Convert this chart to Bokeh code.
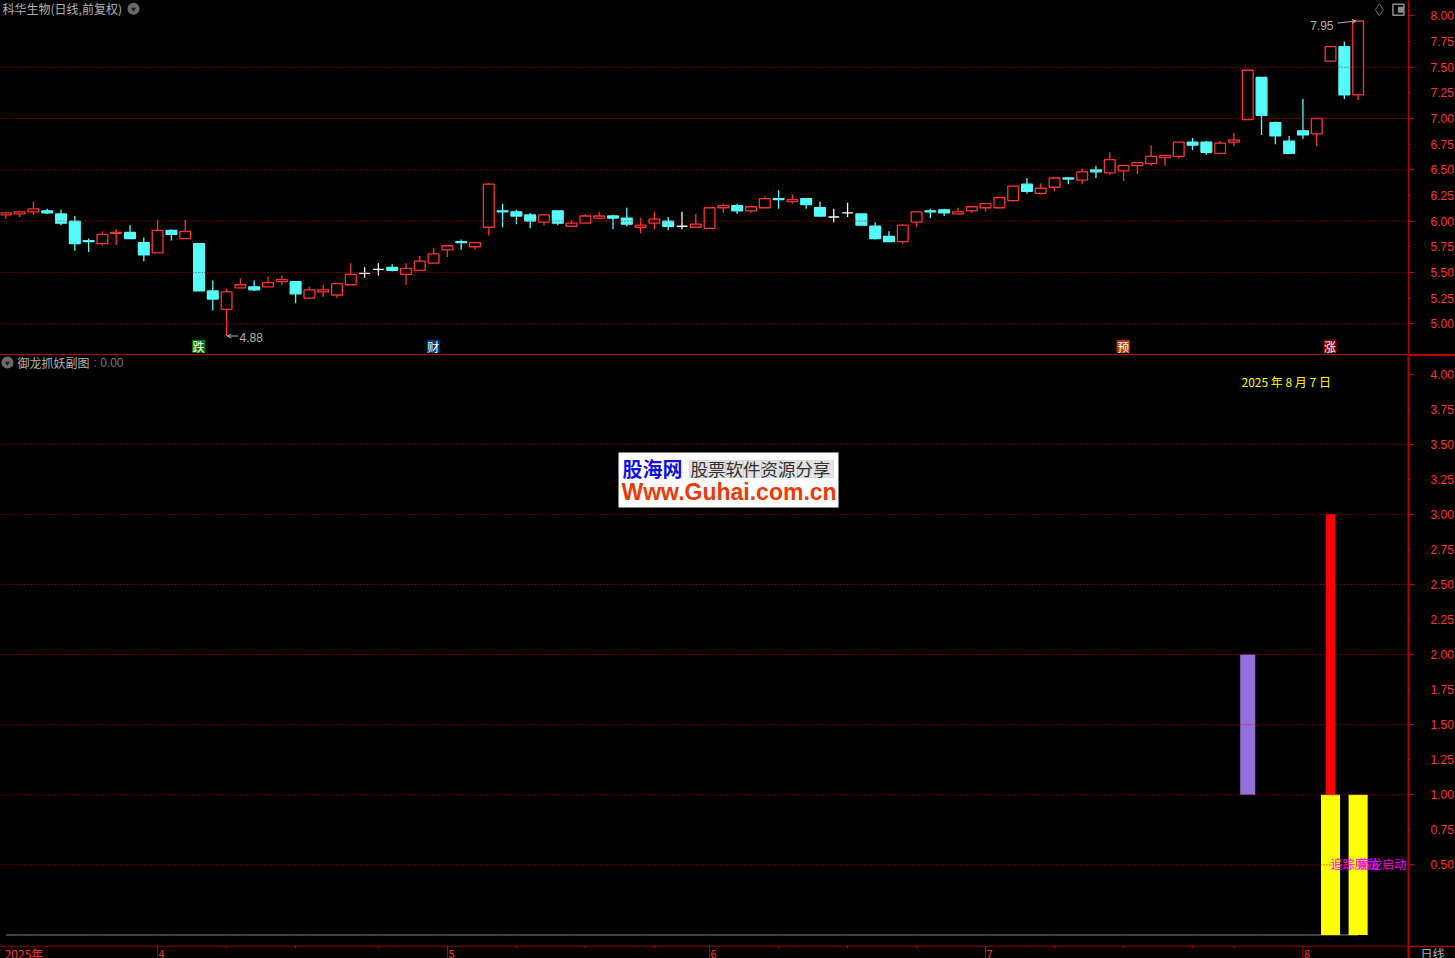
from bokeh.plotting import figure
from bokeh.layouts import column
from bokeh.models import (FixedTicker, Label, LinearAxis, Range1d, Span, BoxAnnotation, ColumnDataSource, Arrow, OpenHead, Div)
from bokeh.core.properties import value
from bokeh.embed import file_html
from bokeh.resources import INLINE

# ---------- data ----------
opens = [6.06,6.07,6.09,6.10,6.07,6.00,5.81,5.78,5.88,5.89,5.79,5.69,5.91,5.83,5.78,5.32,5.14,5.35,5.36,5.36,5.41,5.41,5.25,5.31,5.28,5.38,
         5.49,5.53,5.55,5.48,5.52,5.59,5.72,5.80,5.75,5.94,6.10,6.09,6.06,5.99,6.10,5.95,5.98,6.03,6.05,6.03,5.94,5.98,6.00,5.95,5.94,5.93,6.13,6.15,6.10,6.13,
         6.22,6.19,6.22,6.13,6.04,6.08,6.07,5.95,5.85,5.80,5.99,6.10,6.11,6.07,6.10,6.13,6.13,6.20,6.36,6.27,6.33,6.42,6.40,6.50,6.47,6.49,6.54,6.56,6.62,6.63,
         6.77,6.77,6.66,6.77,6.99,7.40,6.96,6.78,6.88,6.85,7.56,7.70,7.23]
highs = [6.09,6.10,6.19,6.12,6.11,6.05,5.83,5.90,5.92,5.96,5.84,6.01,5.92,6.01,5.78,5.42,5.34,5.44,5.42,5.46,5.47,5.41,5.36,5.38,5.39,5.59,
         5.55,5.59,5.58,5.59,5.66,5.74,5.77,5.82,5.80,6.37,6.17,6.11,6.08,6.07,6.10,6.01,6.07,6.09,6.06,6.13,6.03,6.09,6.04,6.09,6.07,6.13,6.17,6.17,6.14,6.24,
         6.30,6.26,6.22,6.19,6.12,6.18,6.07,5.99,5.90,5.97,6.09,6.12,6.12,6.13,6.14,6.18,6.23,6.35,6.42,6.37,6.42,6.43,6.51,6.54,6.67,6.54,6.57,6.74,6.64,6.77,
         6.81,6.78,6.78,6.86,7.47,7.40,6.97,6.83,7.19,7.01,7.70,7.75,7.95]
lows = [6.02,6.04,6.06,6.07,5.96,5.71,5.70,5.76,5.77,5.83,5.61,5.69,5.81,5.83,5.32,5.13,4.88,5.35,5.32,5.36,5.38,5.20,5.24,5.26,5.25,5.38,
        5.45,5.47,5.51,5.38,5.52,5.59,5.65,5.72,5.72,5.86,5.94,5.97,5.93,5.96,5.96,5.95,5.98,6.03,5.92,5.95,5.88,5.92,5.91,5.92,5.94,5.93,6.08,6.07,6.08,6.13,
        6.12,6.17,6.12,6.04,5.99,6.04,5.96,5.82,5.80,5.78,5.94,6.03,6.05,6.07,6.08,6.09,6.13,6.19,6.27,6.26,6.29,6.36,6.36,6.42,6.45,6.39,6.46,6.54,6.54,6.61,
        6.69,6.65,6.65,6.73,6.99,6.84,6.75,6.66,6.80,6.73,7.56,7.19,7.18]
closes = [6.08,6.09,6.12,6.08,5.98,5.78,5.80,5.87,5.89,5.83,5.67,5.91,5.87,5.90,5.32,5.24,5.31,5.38,5.33,5.40,5.43,5.29,5.33,5.33,5.39,5.48,
          5.49,5.53,5.52,5.54,5.61,5.68,5.76,5.79,5.79,6.36,6.09,6.05,6.00,6.06,5.98,5.98,6.05,6.05,6.03,5.97,5.96,6.02,5.95,5.95,5.97,6.13,6.15,6.10,6.14,6.22,
          6.21,6.21,6.16,6.05,6.04,6.08,5.96,5.83,5.80,5.96,6.09,6.09,6.08,6.09,6.14,6.17,6.23,6.34,6.29,6.32,6.42,6.41,6.48,6.48,6.60,6.54,6.57,6.63,6.64,6.77,
          6.74,6.67,6.76,6.79,7.47,7.03,6.83,6.66,6.84,7.00,7.70,7.23,7.95]

price_ticks = [5.00,5.25,5.50,5.75,6.00,6.25,6.50,6.75,7.00,7.25,7.50,7.75,8.00]
price_grid = [5.0,5.5,6.0,6.5,7.0,7.5]
sub_ticks = [0.50,0.75,1.00,1.25,1.50,1.75,2.00,2.25,2.50,2.75,3.00,3.25,3.50,3.75,4.00]
sub_grid = [0.5,1.0,1.5,2.0,2.5,3.0,3.5]
month_idx = [11,32,51,71,94]
month_labels = ["4","5","6","7","8"]
year_label = "2025年"
week_idx = [16,21,27,37,42,47,56,61,66,76,81,86,89]
tags = [(14,"跌","#007800"),(31,"财","#003C78"),(81,"预","#A83800"),(96,"涨","#800000")]
purple_idx, purple_lo, purple_hi = [90],[1.0],[2.0]
red_idx, red_lo, red_hi = [96],[1.0],[3.0]
yellow_idx, yellow_hi = [96,98],[1.0,1.0]
zero_line = [0.0]*99

RED="#FF3232"; CYAN="#54FCFC"; AXIS="#C00000"; GRAY="#B4B4B4"; CJK="Noto Sans CJK SC"; LAT="Liberation Sans"
X0,X1=-0.386,101.65
n=len(opens); idx=list(range(n))
up=[i for i in idx if closes[i]>opens[i]]
dn=[i for i in idx if closes[i]<opens[i]]
dj=[i for i in idx if closes[i]==opens[i]]

def frame(h,yr):
    f=figure(width=1455,height=h,frame_width=1408,frame_height=h,x_range=Range1d(X0,X1),y_range=Range1d(*yr),
             output_backend="svg",toolbar_location=None,background_fill_color="#000000",border_fill_color="#000000",
             outline_line_color=None,min_border_left=0,min_border_right=47,min_border_top=0,min_border_bottom=0,y_axis_location=None,x_axis_location=None)
    f.xgrid.visible=False; f.ygrid.visible=False
    return f

def strip(h,yr):
    x1=X0+(X1-X0)*1455/1408
    f=figure(width=1455,height=h,frame_width=1455,frame_height=h,x_range=Range1d(X0,x1),y_range=Range1d(*yr),
             output_backend="svg",toolbar_location=None,background_fill_color="#000000",border_fill_color="#000000",
             outline_line_color=None,min_border=0,y_axis_location=None,x_axis_location=None)
    f.xgrid.visible=False; f.ygrid.visible=False
    return f

def yaxis(f,ticks,grid,lw):
    half=[t for t in ticks if abs(t*2-round(t*2))<1e-6]
    ax=LinearAxis(ticker=FixedTicker(ticks=ticks,minor_ticks=half),major_label_overrides={t:f"{t:.2f}" for t in ticks},
        axis_line_color=AXIS,axis_line_width=lw,major_tick_line_color=AXIS,minor_tick_line_color=AXIS,
        major_tick_in=0,major_tick_out=2,minor_tick_in=0,minor_tick_out=6,major_label_standoff=16,
        major_label_text_color=RED,major_label_text_font=LAT,major_label_text_font_size="12px")
    f.add_layout(ax,"right")
    for g in grid:
        f.add_layout(Span(location=g,dimension="width",line_color="#E00000",line_dash="1 2",line_width=1))

def txt(f,t,sx,sy,col=GRAY,size="12px",font=CJK):
    f.add_layout(Label(x=sx,y=sy,x_units="screen",y_units="screen",text=t,text_color=col,text_font=font,
        text_font_size=size,text_baseline="middle"))

# ---------- price panel ----------
p1=frame(354,(4.70,8.150))
yaxis(p1,price_ticks,price_grid,1)
def cs(ids,col,hollow):
    s=ColumnDataSource(dict(x=ids,h=[highs[i] for i in ids],l=[lows[i] for i in ids],
        t=[max(opens[i],closes[i]) for i in ids],b=[min(opens[i],closes[i]) for i in ids]))
    p1.segment("x","h","x","l",source=s,line_color=col,line_width=1.3)
    p1.vbar(x="x",top="t",bottom="b",width=0.78,source=s,line_color=col,line_width=1.3,fill_color="#000000" if hollow else col)
cs(up,RED,True); cs(dn,CYAN,False); cs(dj,"#FFFFFF",False)

txt(p1,"科华生物(日线,前复权)",2,346)
p1.scatter([9.25],[8.07],size=12,marker="circle",fill_color="#6A6A6A",line_color=None)
p1.scatter([9.25],[8.065],size=5,marker="inverted_triangle",fill_color="#1E1E1E",line_color=None)
p1.add_layout(Label(x=16,y=lows[16],text=f"{lows[16]:.2f}",x_offset=13,y_offset=-1,text_color=GRAY,text_font=LAT,text_font_size="12px",text_baseline="middle"))
p1.add_layout(Arrow(end=OpenHead(line_color=GRAY,line_width=1,size=4),x_start=16.85,y_start=lows[16],x_end=16.05,y_end=lows[16],line_color=GRAY,line_width=1))
p1.add_layout(Label(x=98,y=highs[98],text=f"{highs[98]:.2f}",x_offset=-48,y_offset=-4,text_color=GRAY,text_font=LAT,text_font_size="12px",text_baseline="middle"))
p1.add_layout(Arrow(end=OpenHead(line_color=GRAY,line_width=1,size=4),x_start=96.5,y_start=highs[98]-0.02,x_end=97.85,y_end=highs[98],line_color=GRAY,line_width=1))
tag_y=[4.78]*len(tags)
p1.rect([t[0]-0.03 for t in tags],tag_y,width=13,height=13,width_units="screen",height_units="screen",fill_color=[t[2] for t in tags],line_color=None)
p1.text([t[0]-0.03 for t in tags],tag_y,text=[t[1] for t in tags],text_color="#FFFFFF",text_font=value(CJK),text_font_size="12px",text_align="center",text_baseline="middle")
p1.scatter([99.54],[8.06],size=12,marker="diamond",fill_color=None,line_color="#6E6E6E")
p1.scatter([100.92],[8.06],size=11,marker="square",fill_color=None,line_color="#8C8C8C",line_width=1.5)
p1.scatter([101.1],[8.06],size=6,marker="square",fill_color="#8C8C8C",line_color=None)

# ---------- separator ----------
sep1=Div(width=1455,height=1,margin=0,styles={"background":AXIS})
sep2=Div(width=1455,height=1,margin=0,styles={"background":f"linear-gradient(to right,#000000 1408px,{AXIS} 1408px)"})

# ---------- sub panel (frame bottom is at window y=945) ----------
p2=frame(589,(-0.075,4.126))
yaxis(p2,sub_ticks,sub_grid,2)
p2.line(idx,zero_line,line_color="#808080",line_width=1)
p2.vbar(x=purple_idx,bottom=purple_lo,top=purple_hi,width=1.09,fill_color="#9370DB",line_color=None)
p2.vbar(x=red_idx,bottom=red_lo,top=red_hi,width=0.68,fill_color="#FF0000",line_color=None)
p2.vbar(x=yellow_idx,bottom=0,top=yellow_hi,width=1.38,fill_color="#FFFF00",line_color=None)
for i,t in [(96,"追踪魔龙"),(98,"魔龙启动")]:
    p2.add_layout(Label(x=i,y=0.5,text=t,y_offset=1,text_color="#FF00FF",text_font=CJK,text_font_size="12px",text_baseline="middle"))
txt(p2,"御龙抓妖副图",17,945-362)
txt(p2,": 0.00",93,945-362,col="#787878",font=LAT)
txt(p2,"2025 年 8 月 7 日",1241,945-381,col="#FFFF00")
p2.scatter([0.12],[4.083],size=12,marker="circle",fill_color="#6A6A6A",line_color=None)
p2.scatter([0.12],[4.078],size=5,marker="inverted_triangle",fill_color="#1E1E1E",line_color=None)
# watermark
p2.add_layout(BoxAnnotation(left=618,right=838,top=945-452,bottom=945-507,left_units="screen",right_units="screen",top_units="screen",bottom_units="screen",fill_color="#FFFFFF",fill_alpha=1,line_color=None,level="overlay"))
for k in range(8):
    p2.add_layout(BoxAnnotation(left=689+k*18,right=707+k*18,top=945-460,bottom=945-477,left_units="screen",right_units="screen",top_units="screen",bottom_units="screen",fill_color="#E4E4E4",fill_alpha=1,line_color="#A8A8A8",line_width=1,level="overlay"))
def wm(t,sx,sy,col,size,font,w="normal"):
    p2.add_layout(Label(x=sx,y=sy,x_units="screen",y_units="screen",text=t,text_color=col,text_font=font,text_font_size=size,text_baseline="middle",text_font_style=w,level="overlay"))
wm("股海网",622,945-468,"#1010E0","20px",CJK,"bold")
wm("股票软件资源分享",690,945-468,"#303030","17.5px",CJK)
wm("Www.Guhai.com.cn",621,945-491,"#F03808","23px",LAT,"bold")

# ---------- date strip ----------
p3=strip(13,(0,13))
xe=X0+(X1-X0)*1455/1408
p3.segment([X0],[12.5],[xe],[12.5],line_color=AXIS,line_width=1)
p3.segment([X1],[12],[xe],[12],line_color=AXIS,line_width=1)
p3.segment(month_idx,[13]*len(month_idx),month_idx,[0]*len(month_idx),line_color=AXIS,line_width=1)
p3.segment(week_idx,[13]*len(week_idx),week_idx,[10]*len(week_idx),line_color=AXIS,line_width=1)
p3.segment([X1],[13],[X1],[0],line_color=AXIS,line_width=2)
p3.text(month_idx,[5]*len(month_idx),text=month_labels,x_offset=1,text_color=RED,text_font=value(CJK),text_font_size="11px",text_baseline="middle")
p3.text([-0.3],[5],text=[year_label],x_offset=3,text_color=RED,text_font=value(CJK),text_font_size="12px",text_baseline="middle")
p3.text([X1],[5],text=["日线"],x_offset=12,text_color=GRAY,text_font=value(CJK),text_font_size="12px",text_baseline="middle")

page=column(p1,sep1,sep2,p2,p3,spacing=0,margin=0,styles={"position":"fixed","left":"0","top":"0","background":"#000000"})
open("out.html","w").write(file_html(page,INLINE))
